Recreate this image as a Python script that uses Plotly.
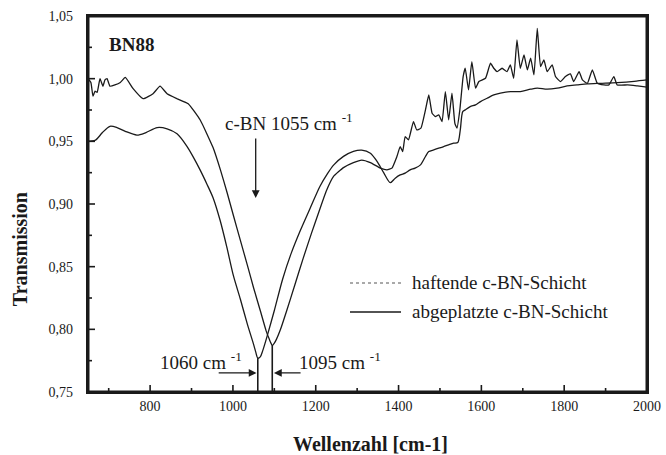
import plotly.graph_objects as go

# IR transmission spectra of c-BN layers (sample BN88)
wn_haftend = [650, 657, 662, 667, 672, 679, 686, 691, 696, 703, 715, 728, 740, 759, 783, 807,
              824, 841, 865, 892, 921, 952, 970, 986, 1001, 1018, 1035, 1050, 1066, 1080, 1088,
              1095, 1100, 1105, 1115, 1130, 1150, 1170, 1190, 1210, 1225, 1243, 1267, 1291, 1311,
              1332, 1356, 1372, 1384, 1396, 1404, 1410, 1416, 1424, 1436, 1444, 1454, 1465, 1473,
              1481, 1489, 1497, 1505, 1513, 1521, 1529, 1536, 1541, 1548, 1556, 1561, 1569, 1577,
              1586, 1594, 1610, 1622, 1630, 1638, 1650, 1662, 1670, 1678, 1686, 1694, 1703, 1711,
              1719, 1727, 1735, 1743, 1751, 1759, 1771, 1779, 1791, 1803, 1815, 1823, 1836, 1844,
              1856, 1868, 1880, 1896, 1908, 1920, 1928, 1953, 1977, 2000]
t_haftend = [1.000, 0.997, 0.986, 0.990, 0.989, 1.000, 0.994, 0.999, 1.000, 0.994, 0.995, 0.997,
             1.001, 0.992, 0.984, 0.988, 0.994, 0.988, 0.984, 0.980, 0.967, 0.945, 0.927, 0.909,
             0.891, 0.871, 0.851, 0.833, 0.815, 0.799, 0.792, 0.787, 0.789, 0.792, 0.800, 0.815,
             0.836, 0.857, 0.877, 0.896, 0.910, 0.922, 0.929, 0.933, 0.935, 0.933, 0.9286, 0.9272,
             0.9286, 0.9379, 0.9458, 0.9419, 0.9538, 0.9512, 0.9658, 0.9591, 0.9605, 0.9751, 0.987,
             0.9724, 0.9698, 0.9711, 0.9658, 0.9897, 0.9671, 0.9884, 0.9644, 0.9605, 0.9751, 1.0017,
             1.0083, 0.991, 1.0136, 0.9924, 0.9977, 1.0003, 1.0123, 1.0083, 1.0056, 1.0083, 1.0056,
             1.011, 1.0003, 1.0309, 1.0083, 1.0189, 1.007, 1.0163, 1.003, 1.0402, 1.0096, 1.015,
             1.0056, 1.011, 1.0017, 0.9977, 1.0017, 1.0038, 0.9977, 1.0056, 0.999, 0.9963, 1.007,
             0.9963, 0.995, 0.995, 1.0017, 0.995, 0.995, 0.9942, 0.9933]

wn_abgeplatzt = [650, 668, 685, 703, 720, 740, 768, 790, 817, 841, 865, 889, 905, 921, 937, 952,
                 969, 985, 1001, 1018, 1035, 1049, 1055, 1060, 1066, 1072, 1083, 1100, 1120, 1140,
                 1163, 1187, 1210, 1228, 1243, 1267, 1291, 1311, 1332, 1348, 1364, 1380, 1392, 1404,
                 1416, 1428, 1440, 1453, 1465, 1473, 1485, 1497, 1509, 1521, 1533, 1543, 1549, 1555,
                 1561, 1573, 1586, 1598, 1614, 1630, 1646, 1670, 1694, 1719, 1735, 1759, 1783, 1807,
                 1831, 1856, 1888, 1928, 1969, 2000]
t_abgeplatzt = [0.950, 0.951, 0.957, 0.962, 0.961, 0.958, 0.955, 0.957, 0.961, 0.960, 0.956, 0.946,
                0.937, 0.927, 0.916, 0.905, 0.887, 0.866, 0.843, 0.824, 0.804, 0.789, 0.782, 0.777,
                0.778, 0.783, 0.795, 0.815, 0.840, 0.860, 0.879, 0.897, 0.914, 0.924, 0.931, 0.938,
                0.942, 0.943, 0.9405, 0.934, 0.925, 0.917, 0.9206, 0.9232, 0.9246, 0.9272, 0.9286,
                0.9312, 0.9379, 0.9418, 0.9432, 0.9445, 0.9458, 0.9472, 0.9485, 0.949, 0.959, 0.9737,
                0.9751, 0.9777, 0.9791, 0.9817, 0.9844, 0.987, 0.9884, 0.9897, 0.9897, 0.9916, 0.9924,
                0.9916, 0.9924, 0.9942, 0.995, 0.9958, 0.9963, 0.9969, 0.9979, 0.999]

x_range = [650, 2000]
y_range = [0.75, 1.05]
x_ticks = [800, 1000, 1200, 1400, 1600, 1800, 2000]
x_minor = [700, 900, 1100, 1300, 1500, 1700, 1900]
y_ticks = [0.75, 0.80, 0.85, 0.90, 0.95, 1.00, 1.05]
y_minor = [0.775, 0.825, 0.875, 0.925, 0.975, 1.025]

peak_relaxed = 1060     # abgeplatzte Schicht
peak_stressed = 1095    # haftende Schicht
peak_reference = 1055   # c-BN Referenz

FONT = "Liberation Serif"
INK = "#1a1a1a"
NBSP = "\u00a0"

W, H = 666, 455
M = dict(l=88, r=19, t=16, b=63)
plot_w = W - M["l"] - M["r"]
plot_h = H - M["t"] - M["b"]
# data units per pixel, used for tick-mark lengths
x_per_px = (x_range[1] - x_range[0]) / plot_w
y_per_px = (y_range[1] - y_range[0]) / plot_h
x0, x1 = x_range
y0, y1 = y_range

fig = go.Figure()

# plot frame
fig.add_trace(go.Scatter(x=[x0, x1, x1, x0, x0], y=[y0, y0, y1, y1, y0], mode="lines",
                         line=dict(color=INK, width=3), hoverinfo="skip", showlegend=False))

# inward tick marks on the bottom and left edges
tick_x, tick_y = [], []
for vals, length in [(x_ticks, 7), (x_minor, 4)]:
    for v in vals:
        tick_x += [v, v, None]
        tick_y += [y0, y0 + length * y_per_px, None]
for vals, length in [(y_ticks, 7), (y_minor, 4)]:
    for v in vals:
        tick_x += [x0, x0 + length * x_per_px, None]
        tick_y += [v, v, None]
fig.add_trace(go.Scatter(x=tick_x, y=tick_y, mode="lines", connectgaps=False,
                         line=dict(color=INK, width=1.6), hoverinfo="skip", showlegend=False))

fig.add_trace(go.Scatter(x=wn_haftend, y=t_haftend, mode="lines",
                         line=dict(color=INK, width=1.3, shape="spline", smoothing=0.4),
                         name="haftende c-BN-Schicht", showlegend=False))
fig.add_trace(go.Scatter(x=wn_abgeplatzt, y=t_abgeplatzt, mode="lines",
                         line=dict(color=INK, width=1.3, shape="spline", smoothing=0.8),
                         name="abgeplatzte c-BN-Schicht", showlegend=False))

# vertical markers at the two absorption minima
min_relaxed = min(t_abgeplatzt)
min_stressed = min(t_haftend)
for xv, yv in [(peak_relaxed, min_relaxed), (peak_stressed, min_stressed)]:
    fig.add_shape(type="line", xref="x", yref="y", x0=xv, x1=xv, y0=y0, y1=yv,
                  line=dict(color=INK, width=1.6))

ann_font = dict(family=FONT, size=19, color=INK)
title_font = dict(family=FONT, size=20, color=INK)
annotations = [
    dict(x=696, y=1.027, text="<b>BN88</b>", xanchor="left", yanchor="middle",
         showarrow=False, font=ann_font),
    dict(x=976, y=0.9654, text=f"c-BN {peak_reference} cm <sup>-1</sup>", xanchor="left",
         yanchor="middle", showarrow=False, font=ann_font),
    dict(x=peak_reference, y=0.9048, ax=peak_reference, ay=0.9535, axref="x", ayref="y",
         xref="x", yref="y", text="", showarrow=True, arrowhead=2, arrowsize=1.2,
         arrowwidth=1.3, arrowcolor=INK),
    dict(x=819, y=0.7745, text=f"{peak_relaxed} cm <sup>-1</sup>", xanchor="left",
         yanchor="middle", showarrow=False, font=ann_font),
    dict(x=peak_relaxed - 3, y=0.7652, ax=962, ay=0.7652, axref="x", ayref="y",
         xref="x", yref="y", text="", showarrow=True, arrowhead=2, arrowsize=1.2,
         arrowwidth=1.3, arrowcolor=INK),
    dict(x=1155, y=0.7745, text=f"{peak_stressed} cm <sup>-1</sup>", xanchor="left",
         yanchor="middle", showarrow=False, font=ann_font),
    dict(x=peak_stressed + 4, y=0.7652, ax=1167, ay=0.7652, axref="x", ayref="y",
         xref="x", yref="y", text="", showarrow=True, arrowhead=2, arrowsize=1.2,
         arrowwidth=1.3, arrowcolor=INK),
    # key entries
    dict(x=0.576, y=0.2899, xref="paper", yref="paper", text="haftende c-BN-Schicht",
         xanchor="left", yanchor="middle", showarrow=False, font=ann_font),
    dict(x=0.576, y=0.2128, xref="paper", yref="paper", text="abgeplatzte c-BN-Schicht",
         xanchor="left", yanchor="middle", showarrow=False, font=ann_font),
    # axis titles
    dict(x=0.506, y=-0.138, xref="paper", yref="paper", text="<b>Wellenzahl [cm-1]</b>",
         xanchor="center", yanchor="middle", showarrow=False, font=title_font),
    dict(x=-0.1216, y=0.38, xref="paper", yref="paper", text="<b>Transmission</b>",
         textangle=-90, xanchor="center", yanchor="middle", showarrow=False, font=title_font),
]
fig.add_shape(type="line", xref="paper", yref="paper", x0=0.4687, x1=0.56, y0=0.2899, y1=0.2899,
              line=dict(color="#555555", width=1.2, dash="dot"))
fig.add_shape(type="line", xref="paper", yref="paper", x0=0.4687, x1=0.56, y0=0.2128, y1=0.2128,
              line=dict(color=INK, width=1.3))

tick_font = dict(family=FONT, size=14, color=INK)
fig.update_layout(
    width=W, height=H,
    margin=dict(**M, autoexpand=False),
    paper_bgcolor="white", plot_bgcolor="white",
    font=dict(family=FONT, size=14, color=INK),
    annotations=annotations,
    showlegend=False,
    hovermode=False,
    xaxis=dict(
        range=x_range, tickmode="array", tickvals=x_ticks, ticktext=[str(v) for v in x_ticks],
        ticks="", showline=True, linewidth=1.6, linecolor=INK, mirror=True, automargin=False,
        showgrid=False, zeroline=False, tickfont=tick_font,
    ),
    yaxis=dict(
        range=y_range, tickmode="array", tickvals=y_ticks,
        ticktext=[f"{v:.2f}".replace(".", ",") + NBSP * 3 for v in y_ticks],
        ticks="", showline=True, linewidth=1.6, linecolor=INK, mirror=True, automargin=False,
        showgrid=False, zeroline=False, tickfont=tick_font,
    ),
)

fig.write_html("out.html")
